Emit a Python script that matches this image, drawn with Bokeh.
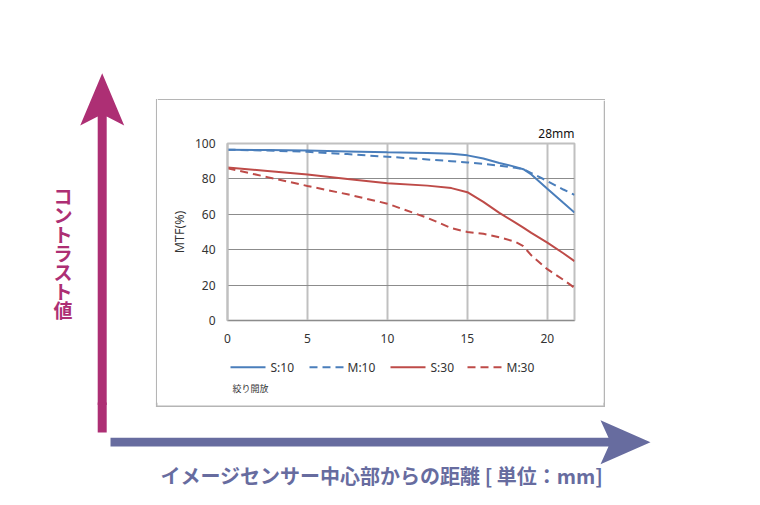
from bokeh.plotting import figure
from bokeh.layouts import row, column
from bokeh.models import Range1d
from bokeh.core.properties import value
from bokeh.embed import file_html
from bokeh.resources import INLINE

# ---------------- data ----------------
x_mm = [0, 2.5, 5, 7.5, 10, 12.5, 14, 15, 16, 17, 18, 18.5, 19, 20, 21, 21.7]
s10 = [96.5, 96.3, 96.0, 95.5, 95.0, 94.6, 94.2, 93.3, 91.5, 89.0, 86.8, 85.5, 82.5, 74.5, 66.5, 61.0]
m10 = [96.5, 96.0, 95.3, 94.0, 92.5, 91.0, 90.0, 89.3, 88.5, 87.5, 86.3, 85.5, 83.3, 78.8, 74.0, 71.0]
s30 = [86.5, 84.5, 82.5, 80.0, 77.6, 76.2, 74.8, 72.5, 67.0, 60.8, 55.3, 52.5, 49.5, 44.0, 38.0, 33.5]
m30 = [86.0, 81.0, 76.0, 71.3, 66.0, 58.0, 52.2, 50.0, 49.0, 47.0, 44.5, 42.0, 36.8, 29.0, 23.0, 18.5]
series_names = ["S:10", "M:10", "S:30", "M:30"]
x_ticks = [0, 5, 10, 15, 20]
y_ticks = [0, 20, 40, 60, 80, 100]
x_max = 21.7
y_max = 100
chart_title = "28mm"
y_label = "MTF(%)"
note = "絞り開放"
left_title = "コントラスト値"
bottom_title = "イメージセンサー中心部からの距離 [ 単位：mm]"

# ---------------- styles ----------------
BLUE = "#4a7ebb"
RED = "#be4b48"
MAGENTA = "#ad2f74"
SLATE = "#676c9f"
TXT = "#333333"
BOX = "#b5b5b5"
FONT = "Noto Sans"
JFONT = "Noto Sans CJK JP"

# tile edges (page pixels)
X0, XS, XB, XR, XE = 0, 108, 157, 603, 744
Y0, YB, YM, YL, YE = 0, 100, 355, 405, 489
OVL = 3                      # the lower strip overlaps the upper block by this much
YLO = YL - OVL
# plot frame (page pixels)
FL, FT, FR, FB = 227, 143, 574, 320


def deco(x0, x1, y0, y1, bl=0, br=0):
    f = figure(width=x1 - x0, height=y1 - y0,
               x_range=Range1d(x0 + bl, x1 - br), y_range=Range1d(y1, y0),
               output_backend="svg", toolbar_location=None,
               x_axis_location=None, y_axis_location=None, min_border=0,
               min_border_left=bl, min_border_right=br)
    f.grid.visible = False
    f.outline_line_color = None
    f.background_fill_alpha = 0
    f.border_fill_alpha = 0
    return f


# ---------------- MTF chart ----------------
mtf = figure(width=XR - XB, height=YM - YB,
             x_range=Range1d(0, x_max), y_range=Range1d(0, y_max),
             output_backend="svg", toolbar_location=None,
             min_border_left=FL - XB, min_border_right=XR - FR,
             min_border_top=FT - YB, min_border_bottom=YM - FB)
mtf.background_fill_color = "white"
mtf.border_fill_color = "white"
mtf.outline_line_color = "#c0c0c0"
mtf.outline_line_width = 2

mtf.title.text = chart_title
mtf.title.align = "right"
mtf.title.text_font = FONT
mtf.title.text_font_size = "12px"
mtf.title.text_font_style = "normal"
mtf.title.text_color = "#111111"
mtf.title.standoff = 4

mtf.xaxis.ticker = x_ticks
mtf.yaxis.ticker = y_ticks
for ax in (mtf.xaxis[0], mtf.yaxis[0]):
    ax.major_tick_in = 0
    ax.major_tick_out = 0
    ax.minor_tick_in = 0
    ax.minor_tick_out = 0
    ax.major_label_text_font = FONT
    ax.major_label_text_font_size = "12px"
    ax.major_label_text_color = TXT
mtf.xaxis.major_label_standoff = 13
mtf.yaxis.major_label_standoff = 12
mtf.xaxis.axis_line_color = "#8c8c8c"
mtf.xaxis.axis_line_width = 1
mtf.yaxis.axis_line_color = "#c0c0c0"
mtf.yaxis.axis_line_width = 2
mtf.yaxis.axis_label = y_label
mtf.yaxis.axis_label_text_font = FONT
mtf.yaxis.axis_label_text_font_size = "12.5px"
mtf.yaxis.axis_label_text_font_style = "normal"
mtf.yaxis.axis_label_text_color = TXT
mtf.yaxis.axis_label_standoff = 4

mtf.xgrid.grid_line_color = "#c0c0c0"
mtf.xgrid.grid_line_width = 2
mtf.ygrid.grid_line_color = "#8c8c8c"
mtf.ygrid.grid_line_width = 1

series = [s10, m10, s30, m30]
colors = [BLUE, BLUE, RED, RED]
dashes = ["solid", "8 5", "solid", "8 5"]
for ys, c, d in zip(series, colors, dashes):
    mtf.line(x_mm, ys, line_color=c, line_width=2, line_dash=d)

# ---------------- legend strip (inside the box, under the chart) ----------------
leg = deco(XB, XR, YM, YL, bl=FL - XB, br=XR - FR)
key_left = [230, 309, 390, 467]
key_text = [270, 347, 430, 506]
key_y = 366.7
for name, c, d, xl, xt in zip(series_names, colors, dashes, key_left, key_text):
    leg.segment(x0=[xl], y0=[key_y], x1=[xl + 35], y1=[key_y],
                line_color=c, line_width=2, line_dash=d)
leg.text(x=key_text, y=[key_y] * 4, text=series_names, text_font=value(FONT),
         text_font_size=value("12px"), text_color=TXT,
         text_align="left", text_baseline="middle")
leg.text(x=[232], y=[388], text=[note], text_font=value(JFONT),
         text_font_size=value("9px"), text_color=TXT,
         text_align="left", text_baseline="middle")


# ---------------- decoration tiles ----------------
def v_arrow(f):
    cx = 101.7
    f.patch([cx - 4.5, cx - 4.5, cx - 22, cx, cx + 22, cx + 4.5, cx + 4.5],
            [432, 116, 125, 72.7, 125, 116, 432], fill_color=MAGENTA, line_alpha=0)


def h_arrow(f):
    cy = 441.7
    f.patch([110, 608, 600, 650, 600, 608, 110],
            [cy - 4.4, cy - 4.4, cy - 22, cy, cy + 22, cy + 4.4, cy + 4.4],
            fill_color=SLATE, line_alpha=0)


def box_sides(f, y0, y1):
    f.segment(x0=[156.2, 603.75], y0=[y0, y0], x1=[156.2, 603.75], y1=[y1, y1],
              line_color=BOX, line_width=1.5)


# upper left: vertical arrow, vertical title, left edge of the box
left = deco(X0, XB, Y0, YL)
v_arrow(left)
box_sides(left, 98.5, YL)
chars = list(left_title)
left.text(x=[62.5] * len(chars), y=[194.5 + 19 * i for i in range(len(chars))],
          text=chars, text_font=value(JFONT), text_font_style="bold",
          text_font_size=value("19px"), text_color=MAGENTA,
          text_align="center", text_baseline="middle")

top = deco(XB, XE, Y0, YB)
top.segment(x0=[XB], y0=[99.25], x1=[604.5], y1=[99.25], line_color=BOX, line_width=1.5)

right = deco(XR, XE, YB, YL)
box_sides(right, YB, YL)

# lower strip: foot of the vertical arrow | horizontal arrow, x title, bottom edge of the box
foot = deco(X0, XS, YLO, YE)
v_arrow(foot)

bottom = deco(XS, XE, YLO, YE)
h_arrow(bottom)
box_sides(bottom, YLO, 406.5)
bottom.segment(x0=[155.45], y0=[405.75], x1=[604.5], y1=[405.75], line_color=BOX, line_width=1.5)
bottom.text(x=[160], y=[475], text=[bottom_title], text_font=value(JFONT),
            text_font_style="bold", text_font_size=value("20px"), text_color=SLATE,
            text_align="left", text_baseline="middle")

upper = row(left, column(top, row(column(mtf, leg), right)))
lower = row(foot, bottom, margin=(-OVL, 0, 0, 0))
layout = column(upper, lower)

open("out.html", "w").write(file_html(layout, INLINE))
